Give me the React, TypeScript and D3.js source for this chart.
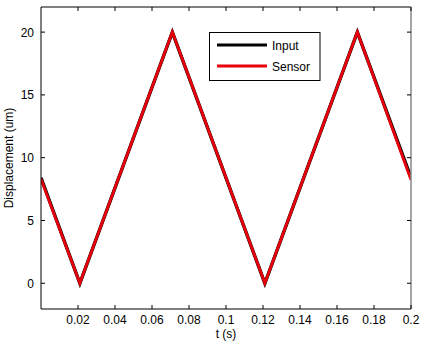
import React from "react";
import * as d3 from "d3";

const inputT = [0, 0.021, 0.071, 0.121, 0.171, 0.2];
const inputV = [8.4, 0, 20, 0, 20, 8.4];
const sensorT = [0, 0.021, 0.071, 0.121, 0.171, 0.2];
const sensorV = [8.3, 0, 20, 0, 20, 8.25];
const xTicks = [0.02, 0.04, 0.06, 0.08, 0.1, 0.12, 0.14, 0.16, 0.18, 0.2];
const yTicks = [0, 5, 10, 15, 20];
const seriesNames = ["Input", "Sensor"];
const seriesColors = ["#000000", "#e8000b"];

export default function App() {
  const W = 425, H = 346;
  const L = 41, R = 411, T = 7, B = 309;
  const x = d3.scaleLinear().domain([0, 0.2]).range([L, R]);
  const y = d3.scaleLinear().domain([-2.05, 22]).range([B, T]);
  const line = d3.line<[number, number]>().x(d => x(d[0])).y(d => y(d[1]));
  const inputPts = inputT.map((t, i) => [t, inputV[i]] as [number, number]);
  const sensorPts = sensorT.map((t, i) => [t, sensorV[i]] as [number, number]);
  const font = "'Liberation Sans', Arial, sans-serif";
  const tl = 4;
  return (
    <svg width={W} height={H} style={{ position: "absolute", left: 0, top: 0, background: "#fff" }} fontFamily={font}>
      <rect x={0} y={0} width={W} height={H} fill="#fff" />
      <defs>
        <clipPath id="clip"><rect x={L} y={T} width={R - L} height={B - T} /></clipPath>
      </defs>
      <g clipPath="url(#clip)">
        <path d={line(inputPts) || ""} fill="none" stroke={seriesColors[0]} strokeWidth={3.4} strokeLinejoin="miter" />
        <path d={line(sensorPts) || ""} fill="none" stroke={seriesColors[1]} strokeWidth={2.8} strokeLinejoin="miter" />
      </g>
      {/* box */}
      <line x1={L} y1={T} x2={R} y2={T} stroke="#000" strokeWidth={1} />
      <line x1={L} y1={B} x2={R} y2={B} stroke="#000" strokeWidth={1} />
      <line x1={L} y1={T} x2={L} y2={B} stroke="#000" strokeWidth={1} />
      <line x1={R} y1={T} x2={R} y2={B} stroke="#888" strokeWidth={1.5} />
      {xTicks.map(t => (
        <g key={"x" + t}>
          <line x1={x(t)} x2={x(t)} y1={B} y2={B - tl} stroke="#000" />
          <line x1={x(t)} x2={x(t)} y1={T} y2={T + tl} stroke="#000" />
          <text x={x(t)} y={323.5} fontSize={12} textAnchor="middle" fill="#000">{String(t)}</text>
        </g>
      ))}
      {yTicks.map(v => (
        <g key={"y" + v}>
          <line x1={L} x2={L + tl} y1={y(v)} y2={y(v)} stroke="#000" />
          <line x1={R} x2={R - tl} y1={y(v)} y2={y(v)} stroke="#000" />
          <text x={L - 7} y={y(v) + 4.5} fontSize={12} textAnchor="end" fill="#000">{String(v)}</text>
        </g>
      ))}
      <text x={x(0.1)} y={338} fontSize={12} textAnchor="middle" fill="#000">t (s)</text>
      <text transform={`translate(13,${(T + B) / 2}) rotate(-90)`} fontSize={12} textAnchor="middle" fill="#000">Displacement (um)</text>
      {/* legend */}
      <rect x={209.5} y={32.5} width={110.5} height={48} fill="#fff" stroke="#000" strokeWidth={1} />
      {seriesNames.map((n, i) => (
        <g key={n}>
          <line x1={217} x2={267} y1={45 + i * 21} y2={45 + i * 21} stroke={seriesColors[i]} strokeWidth={3} />
          <text x={272} y={49.5 + i * 21} fontSize={12} fill="#000">{n}</text>
        </g>
      ))}
    </svg>
  );
}
